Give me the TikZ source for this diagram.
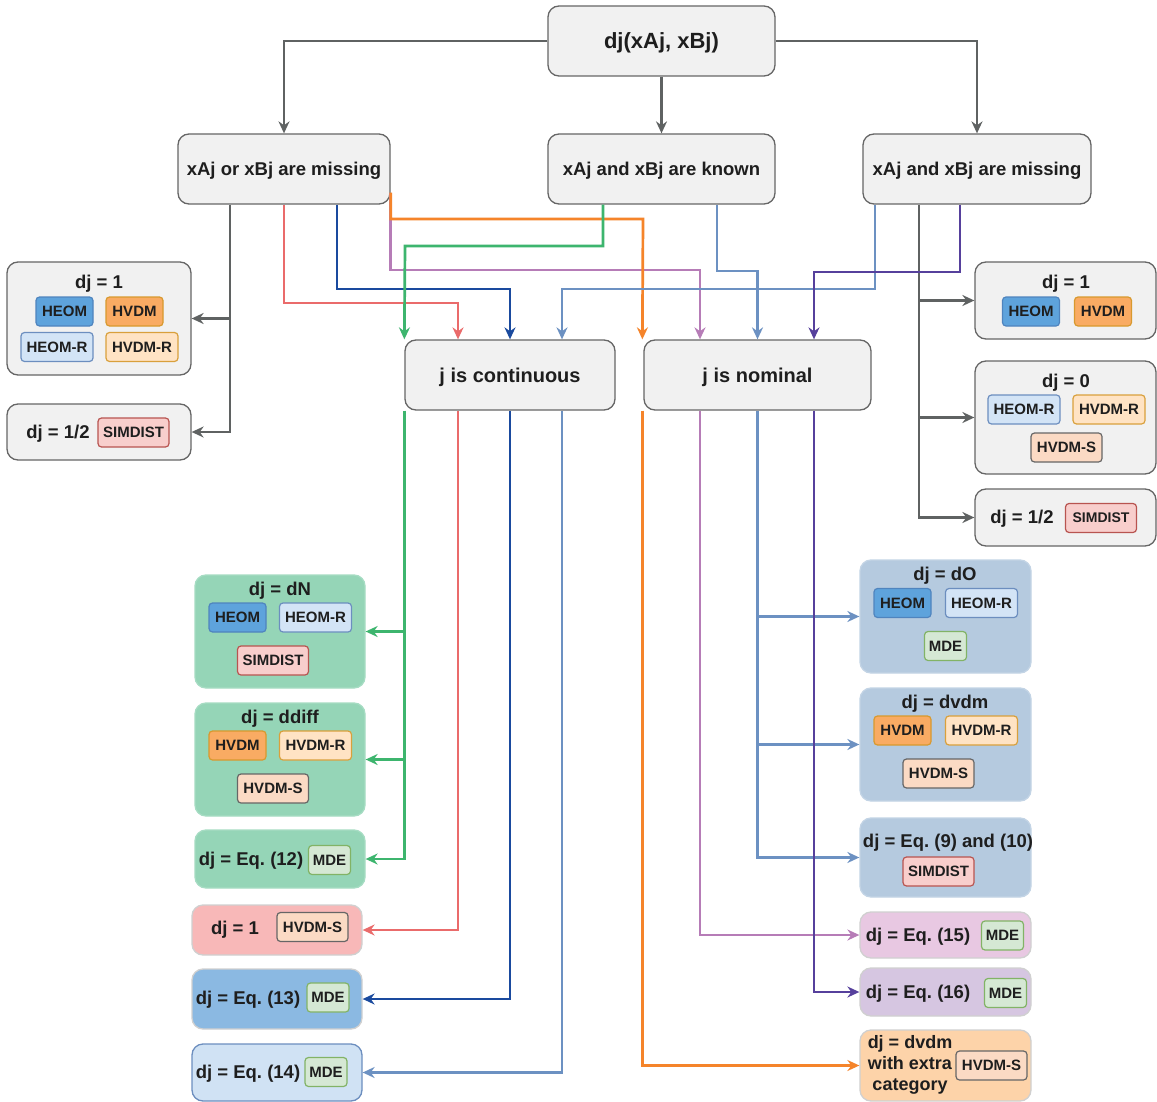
\documentclass[tikz,border=0pt]{standalone}
\usepackage{fontspec}
\setmainfont{Liberation Sans}
\frenchspacing
\usetikzlibrary{arrows.meta}
\definecolor{txt}{HTML}{1E1E1E}
\definecolor{gfill}{HTML}{F1F1F1}
\definecolor{gborder}{HTML}{666666}
\definecolor{cheom}{HTML}{5EA3DC}\definecolor{dheom}{HTML}{4F84BE}
\definecolor{chvdm}{HTML}{F9AB63}\definecolor{dhvdm}{HTML}{D8992E}
\definecolor{cheomr}{HTML}{D3E4F6}\definecolor{dheomr}{HTML}{6C8EBF}
\definecolor{chvdmr}{HTML}{FFE3C4}\definecolor{dhvdmr}{HTML}{D9A03C}
\definecolor{chvdms}{HTML}{FBDAC4}\definecolor{dhvdms}{HTML}{666666}
\definecolor{csim}{HTML}{F8CECC}\definecolor{dsim}{HTML}{B85450}
\definecolor{cmde}{HTML}{D5E8D4}\definecolor{dmde}{HTML}{82B366}
\definecolor{mint}{HTML}{95D5B7}\definecolor{dmint}{HTML}{A6DCC3}
\definecolor{pinkb}{HTML}{F8B8B8}
\definecolor{blueb}{HTML}{8BB9E2}
\definecolor{lblueb}{HTML}{D0E2F4}
\definecolor{steel}{HTML}{B5CADF}\definecolor{dsteel}{HTML}{C3D4E5}
\definecolor{lilac}{HTML}{E8C8E2}
\definecolor{lav}{HTML}{D6C6E1}
\definecolor{peach}{HTML}{FDD3A9}
\definecolor{lgray}{HTML}{D0D0D0}
\definecolor{cgray}{HTML}{5F6262}
\definecolor{cred}{HTML}{EA6B6B}
\definecolor{cdblue}{HTML}{1A4A9E}
\definecolor{cpink}{HTML}{B67CB7}
\definecolor{corange}{HTML}{F5842A}
\definecolor{cgreen}{HTML}{3DB56E}
\definecolor{clblue}{HTML}{6C91C2}
\definecolor{cdpurple}{HTML}{56409C}
\tikzset{
  box/.style={rounded corners=11pt, line width=1.3pt, inner sep=0pt},
  gbox/.style={box, draw=gborder, fill=gfill},
  mainbox/.style={gbox, minimum height=70pt, text depth=0pt, text=txt},
  tagb/.style={rounded corners=3.5pt, line width=1.2pt, inner sep=0pt, minimum height=29pt,
    font=\bfseries\fontsize{15}{17}\selectfont, text=txt},
  heom/.style={tagb, minimum width=57pt, fill=cheom, draw=dheom},
  hvdm/.style={tagb, minimum width=57pt, fill=chvdm, draw=dhvdm},
  heomr/.style={tagb, minimum width=72pt, fill=cheomr, draw=dheomr},
  hvdmr/.style={tagb, minimum width=72pt, fill=chvdmr, draw=dhvdmr},
  hvdms/.style={tagb, minimum width=71pt, fill=chvdms, draw=dhvdms},
  simdist/.style={tagb, minimum width=71pt, fill=csim, draw=dsim},
  mde/.style={tagb, minimum width=42pt, fill=cmde, draw=dmde},
  lbl/.style={inner sep=0pt, font=\bfseries\fontsize{18.5}{21}\selectfont, text=txt},
  conn/.style={line width=2.7pt, -{Stealth[length=12pt,width=11pt,inset=4pt]}},
}
\begin{document}
\begin{tikzpicture}[x=1pt,y=-1pt]
\useasboundingbox (0,0) rectangle (1157,1102);
\fill[white] (0,0) rectangle (1157,1102);

% top level
\node[mainbox, minimum width=227pt, font=\bfseries\fontsize{22}{25}\selectfont] (root) at (661.5,41) {dj(xAj, xBj)};
\node[mainbox, minimum width=212pt, font=\bfseries\fontsize{18.5}{21}\selectfont] (A) at (284,169) {xAj or xBj are missing};
\node[mainbox, minimum width=227pt, font=\bfseries\fontsize{18.5}{21}\selectfont] (B) at (661.5,169) {xAj and xBj are known};
\node[mainbox, minimum width=228pt, font=\bfseries\fontsize{18.5}{21}\selectfont] (C) at (977,169) {xAj and xBj are missing};
\node[mainbox, minimum width=210pt, font=\bfseries\fontsize{20}{23}\selectfont] (Cont) at (510,375) {j is continuous};
\node[mainbox, minimum width=227pt, font=\bfseries\fontsize{20}{23}\selectfont] (Nom) at (757.5,375) {j is nominal};

% left group
\node[gbox, minimum width=184pt, minimum height=113pt] (L1) at (99,318.5) {};
\node[lbl] (L1t) at (99,284) {dj = 1};
\node[heom] (L1a) at (64.5,311.5) {HEOM};
\node[hvdm] (L1b) at (134.5,311.5) {HVDM};
\node[heomr] (L1c) at (57,347) {HEOM-R};
\node[hvdmr] (L1d) at (142,347) {HVDM-R};
\node[gbox, minimum width=184pt, minimum height=56pt] (L2) at (99,432) {};
\node[lbl] (L2t) at (58,434) {dj = 1/2};
\node[simdist] (L2a) at (133.5,432.5) {SIMDIST};

% right group
\node[gbox, minimum width=181pt, minimum height=77pt] (R1) at (1065.5,300.5) {};
\node[lbl] (R1t) at (1066,284) {dj = 1};
\node[heom] (R1a) at (1031,311.5) {HEOM};
\node[hvdm] (R1b) at (1103,311.5) {HVDM};
\node[gbox, minimum width=181pt, minimum height=113pt] (R2) at (1065.5,417.5) {};
\node[lbl] (R2t) at (1066,383) {dj = 0};
\node[heomr] (R2a) at (1024,409.5) {HEOM-R};
\node[hvdmr] (R2b) at (1109,409.5) {HVDM-R};
\node[hvdms] (R2c) at (1066.5,447.5) {HVDM-S};
\node[gbox, minimum width=181pt, minimum height=57pt] (R3) at (1065.5,517.5) {};
\node[lbl] (R3t) at (1022,519) {dj = 1/2};
\node[simdist, font=\bfseries\fontsize{14}{16}\selectfont] (R3a) at (1101,518) {SIMDIST};

% continuous results
\node[box, fill=mint, draw=dmint, minimum width=170pt, minimum height=113pt] (dN) at (280,631.5) {};
\node[lbl] (dNt) at (280,591) {dj = dN};
\node[heom] (dNa) at (237.5,617.5) {HEOM};
\node[heomr] (dNb) at (315.5,617.5) {HEOM-R};
\node[simdist] (dNc) at (273,660.5) {SIMDIST};
\node[box, fill=mint, draw=dmint, minimum width=170pt, minimum height=113pt] (dd) at (280,759.5) {};
\node[lbl] (ddt) at (280,719) {dj = ddiff};
\node[hvdm] (dda) at (237.5,745.5) {HVDM};
\node[hvdmr] (ddb) at (315.5,745.5) {HVDM-R};
\node[hvdms] (ddc) at (273,788.5) {HVDM-S};
\node[box, fill=mint, draw=dmint, minimum width=170pt, minimum height=58pt] (E12) at (280,859) {};
\node[lbl] (E12t) at (251,861) {dj = Eq. (12)};
\node[mde] (E12a) at (329.5,860) {MDE};
\node[box, fill=pinkb, draw=lgray, minimum width=170pt, minimum height=50pt] (One) at (277,930) {};
\node[lbl] (Onet) at (235,930) {dj = 1};
\node[hvdms] (Onea) at (312.5,927) {HVDM-S};
\node[box, fill=blueb, draw=lgray, minimum width=170pt, minimum height=60pt] (E13) at (277,999) {};
\node[lbl] (E13t) at (248,1000) {dj = Eq. (13)};
\node[mde] (E13a) at (328,997.5) {MDE};
\node[box, fill=lblueb, draw=dheomr, minimum width=170pt, minimum height=57pt] (E14) at (277,1072.5) {};
\node[lbl] (E14t) at (248,1074) {dj = Eq. (14)};
\node[mde] (E14a) at (326,1072) {MDE};

% nominal results
\node[box, fill=steel, draw=dsteel, minimum width=171pt, minimum height=113pt] (dO) at (945.5,616.5) {};
\node[lbl] (dOt) at (945,576) {dj = dO};
\node[heom] (dOa) at (902.5,603) {HEOM};
\node[heomr] (dOb) at (981.5,603) {HEOM-R};
\node[mde] (dOc) at (945.5,646) {MDE};
\node[box, fill=steel, draw=dsteel, minimum width=171pt, minimum height=113pt] (dv) at (945.5,744.5) {};
\node[lbl] (dvt) at (945,704) {dj = dvdm};
\node[hvdm] (dva) at (902.5,730.5) {HVDM};
\node[hvdmr] (dvb) at (981.5,730.5) {HVDM-R};
\node[hvdms] (dvc) at (938.5,773.5) {HVDM-S};
\node[box, fill=steel, draw=dsteel, minimum width=171pt, minimum height=79pt] (E910) at (945.5,857.5) {};
\node[lbl] (E910t) at (948,843) {dj = Eq. (9) and (10)};
\node[simdist] (E910a) at (938.5,871.5) {SIMDIST};
\node[box, fill=lilac, draw=lgray, minimum width=171pt, minimum height=46pt] (E15) at (945.5,935) {};
\node[lbl] (E15t) at (918,937) {dj = Eq. (15)};
\node[mde] (E15a) at (1002.5,935.5) {MDE};
\node[box, fill=lav, draw=lgray, minimum width=171pt, minimum height=48pt] (E16) at (945.5,992) {};
\node[lbl] (E16t) at (918,994) {dj = Eq. (16)};
\node[mde] (E16a) at (1005.5,993) {MDE};
\node[box, fill=peach, draw=lgray, minimum width=171pt, minimum height=71pt] (Xtra) at (945.5,1065.5) {};
\node[lbl, align=center, font=\bfseries\fontsize{18}{21}\selectfont] (Xtrat) at (910,1064.5) {dj = dvdm\\with extra\\category};
\node[hvdms] (Xtraa) at (991.5,1065.5) {HVDM-S};

% ---- connectors ----
% root
\draw[conn, cgray] (root.west) -| (A.north);
\draw[conn, cgray] (root.south) -- (B.north);
\draw[conn, cgray] (root.east) -| (C.north);
% A gray
\coordinate (jA) at ([xshift=-54pt]A.south);
\draw[conn, cgray] (jA) |- (L2.east);
\draw[conn, cgray] (L1.east -| jA) -- (L1.east);
% C gray
\coordinate (jC) at ([xshift=-58pt]C.south);
\draw[conn, cgray] (jC) |- (R3.west);
\draw[conn, cgray] (R1.west -| jC) -- (R1.west);
\draw[conn, cgray] (R2.west -| jC) -- (R2.west);

% A colored
\draw[conn, cred] (A.south) |- (458,303) -- ([xshift=-52pt]Cont.north);
\draw[conn, cdblue] ([xshift=53pt]A.south) |- (510,289) -- (Cont.north);
\draw[conn, cpink] ([yshift=12pt]A.south east) |- (700,270) -- ([xshift=-57.5pt]Nom.north);
\draw[conn, corange] ([yshift=12pt]A.south east) |- (643,219) -- ([xshift=-1pt]Nom.north west);
% B colored
\draw[conn, cgreen] ([xshift=-58.5pt]B.south) |- (405,246) -- (Cont.north west);
\draw[conn, clblue] ([xshift=55.5pt]B.south) |- (757.5,271) -- (Nom.north);
% C colored
\draw[conn, clblue] ([xshift=-102pt]C.south) |- (562,289) -- ([xshift=52pt]Cont.north);
\draw[conn, cdpurple] ([xshift=-17pt]C.south) |- (814,272) -- ([xshift=56.5pt]Nom.north);

% from continuous
\coordinate (jG) at (Cont.south west);
\draw[conn, cgreen] (jG) |- (E12.east);
\draw[conn, cgreen] (dN.east -| jG) -- (dN.east);
\draw[conn, cgreen] (dd.east -| jG) -- (dd.east);
\draw[conn, cred] ([xshift=-52pt]Cont.south) |- (One.east);
\draw[conn, cdblue] (Cont.south) |- (E13.east);
\draw[conn, clblue] ([xshift=52pt]Cont.south) |- (E14.east);

% from nominal
\draw[conn, corange] ([xshift=-1pt]Nom.south west) |- (Xtra.west);
\draw[conn, cpink] ([xshift=-57.5pt]Nom.south) |- (E15.west);
\coordinate (jN) at (Nom.south);
\draw[conn, clblue] (jN) |- (E910.west);
\draw[conn, clblue] (dO.west -| jN) -- (dO.west);
\draw[conn, clblue] (dv.west -| jN) -- (dv.west);
\draw[conn, cdpurple] ([xshift=56.5pt]Nom.south) |- (E16.west);
\end{tikzpicture}
\end{document}
